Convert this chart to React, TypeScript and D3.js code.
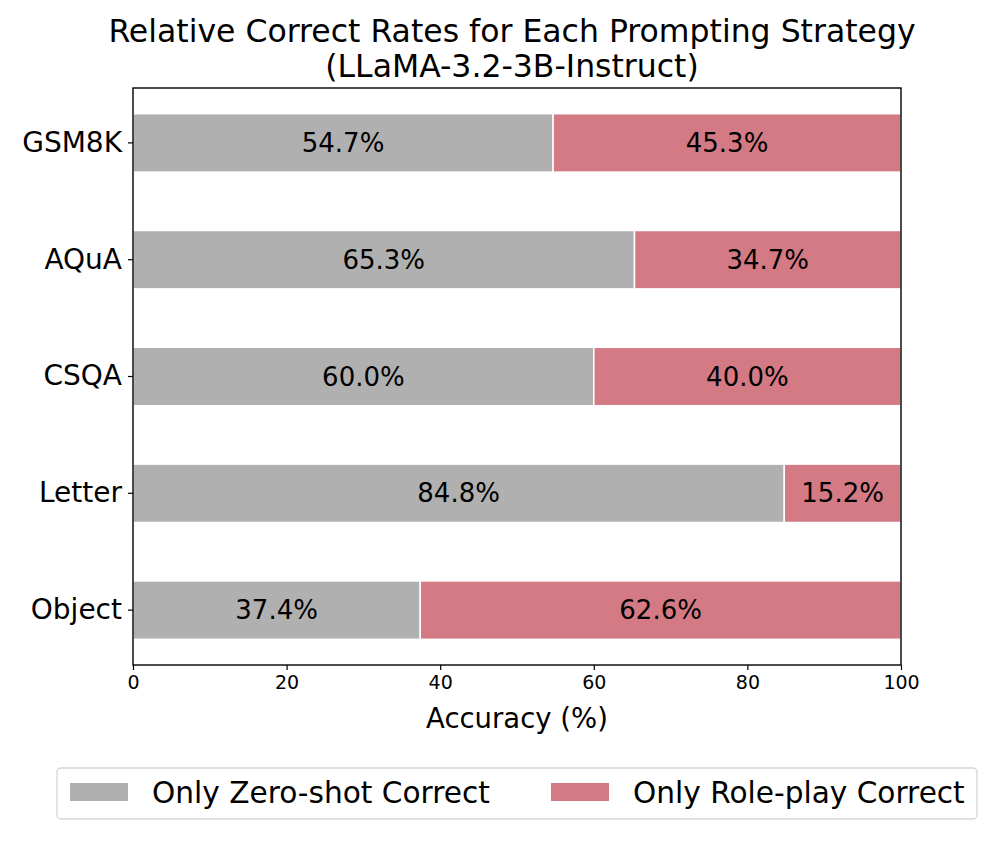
import React, { useEffect, useRef } from "react";
import * as d3 from "d3";

const categories = ["GSM8K", "AQuA", "CSQA", "Letter", "Object"];
const zeroShot = [54.7, 65.3, 60.0, 84.8, 37.4];
const rolePlay = [45.3, 34.7, 40.0, 15.2, 62.6];
const xTicks = [0, 20, 40, 60, 80, 100];
const seriesNames = ["Only Zero-shot Correct", "Only Role-play Correct"];

const App: React.FC = () => {
    const svgRef = useRef<SVGSVGElement | null>(null);
    const grayColor = "#b0b0b0";
    const pinkColor = "#d47a84";
    const font = "DejaVu Sans, sans-serif";

    useEffect(() => {
        const svg = d3.select(svgRef.current);
        svg.selectAll("*").remove();

        const margin = { top: 88, left: 133 };
        const width = 768;
        const height = 577;
        const g = svg.append("g").attr("transform", `translate(${margin.left},${margin.top})`);

        const x = d3.scaleLinear().domain([0, 100]).range([0, width]);
        const y = d3.scaleBand<string>().domain(categories).range([0, height])
            .paddingInner(0.5).paddingOuter(0.22);

        const rows = categories.map((c, i) => ({ cat: c, a: zeroShot[i], b: rolePlay[i] }));

        // zero-shot segments
        g.selectAll(".a").data(rows).enter().append("rect")
            .attr("x", x(0))
            .attr("y", (d) => y(d.cat)!)
            .attr("width", (d) => x(d.a) - x(0))
            .attr("height", y.bandwidth())
            .attr("fill", grayColor)
            .attr("stroke", "white").attr("stroke-width", 1.5);

        // role-play segments
        g.selectAll(".b").data(rows).enter().append("rect")
            .attr("x", (d) => x(d.a))
            .attr("y", (d) => y(d.cat)!)
            .attr("width", (d) => x(d.a + d.b) - x(d.a))
            .attr("height", y.bandwidth())
            .attr("fill", pinkColor)
            .attr("stroke", "white").attr("stroke-width", 1.5);

        // labels
        rows.forEach((d) => {
            const cy = y(d.cat)! + y.bandwidth() / 2;
            g.append("text").attr("x", x(d.a / 2)).attr("y", cy).attr("dy", "0.35em")
                .attr("text-anchor", "middle").style("font-family", font).style("font-size", "26px")
                .text(d.a.toFixed(1) + "%");
            g.append("text").attr("x", x(d.a + d.b / 2)).attr("y", cy).attr("dy", "0.35em")
                .attr("text-anchor", "middle").style("font-family", font).style("font-size", "26px")
                .text(d.b.toFixed(1) + "%");
        });

        // frame
        g.append("rect").attr("x", 0).attr("y", 0).attr("width", width).attr("height", height)
            .attr("fill", "none").attr("stroke", "black").attr("stroke-width", 1.4);

        const xAxis = g.append("g").attr("transform", `translate(0,${height})`)
            .call(d3.axisBottom(x).tickValues(xTicks).tickSize(5).tickPadding(6));
        xAxis.select(".domain").remove();
        xAxis.selectAll("line").attr("stroke-width", 1.2);
        xAxis.selectAll("text").style("font-family", font).style("font-size", "19px").attr("fill", "black");

        const yAxis = g.append("g").call(d3.axisLeft(y).tickSize(5).tickPadding(6));
        yAxis.select(".domain").remove();
        yAxis.selectAll("line").attr("stroke-width", 1.2);
        yAxis.selectAll("text").style("font-family", font).style("font-size", "28px").attr("fill", "black");

        g.append("text").attr("x", width / 2).attr("y", 728 - margin.top).attr("text-anchor", "middle")
            .style("font-family", font).style("font-size", "27.5px").text("Accuracy (%)");

        svg.append("text").attr("x", 512).attr("y", 42).attr("text-anchor", "middle")
            .style("font-family", font).style("font-size", "31.5px")
            .text("Relative Correct Rates for Each Prompting Strategy");
        svg.append("text").attr("x", 512).attr("y", 77).attr("text-anchor", "middle")
            .style("font-family", font).style("font-size", "31.5px")
            .text("(LLaMA-3.2-3B-Instruct)");

        // legend
        const leg = svg.append("g");
        leg.append("rect").attr("x", 57).attr("y", 768).attr("width", 920).attr("height", 51)
            .attr("rx", 4).attr("fill", "white").attr("stroke", "#d6d6d6").attr("stroke-width", 1.3);
        const items = [
            { name: seriesNames[0], color: grayColor, x: 70 },
            { name: seriesNames[1], color: pinkColor, x: 551 },
        ];
        items.forEach((it) => {
            leg.append("rect").attr("x", it.x).attr("y", 783).attr("width", 58).attr("height", 18)
                .attr("fill", it.color);
            leg.append("text").attr("x", it.x + 82).attr("y", 793).attr("dy", "0.35em")
                .style("font-family", font).style("font-size", "29.6px").text(it.name);
        });
    }, []);

    return (
        <div>
            <svg ref={svgRef} width={996} height={854}
                style={{ position: "absolute", left: 0, top: 0 }}></svg>
        </div>
    );
};

export default App;
